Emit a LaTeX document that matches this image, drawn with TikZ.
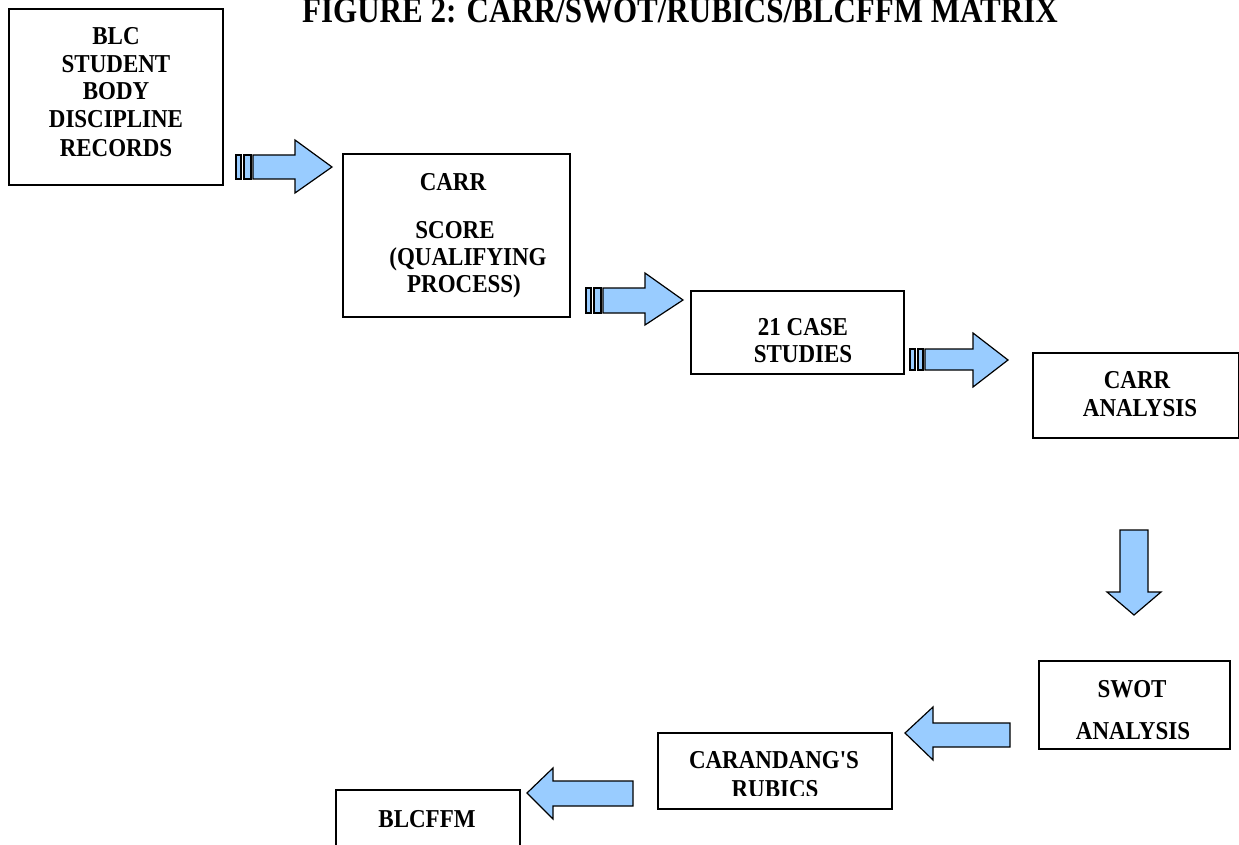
\documentclass[tikz,border=0pt]{standalone}
\usepackage{fontspec}
\setmainfont{Liberation Serif}
\begin{document}
\begin{tikzpicture}[x=1pt,y=-1pt,
  box/.style={draw=black, line width=1.8pt, rectangle, inner sep=0pt, anchor=north west},
  txt/.style={anchor=base, inner sep=0pt, yscale=1.12, font=\fontsize{23}{28}\selectfont\bfseries},
  blockarrow/.style={draw=black, line width=1.2pt, fill=arrowblue, line join=miter},
  stripe/.style={draw=black, line width=1.1pt, fill=arrowblue}
]
\definecolor{arrowblue}{HTML}{99CCFF}
\useasboundingbox (0,0) rectangle (1239,845);
\clip (0,0) rectangle (1239,845);

% title
\node[anchor=base, inner sep=0pt, yscale=1.15, font=\fontsize{31}{34}\selectfont\bfseries] (title) at (680,23) {FIGURE 2: CARR/SWOT/RUBICS/BLCFFM MATRIX};

% boxes
\node[box, minimum width=214pt, minimum height=176pt] (b1) at (8,8) {};
\node[box, minimum width=227pt, minimum height=163pt] (b2) at (342,153) {};
\node[box, minimum width=213pt, minimum height=83pt] (b3) at (690,290) {};
\node[box, minimum width=206pt, minimum height=85pt] (b4) at (1032,352) {};
\node[box, minimum width=191pt, minimum height=88pt] (b5) at (1038,660) {};
\node[box, minimum width=234pt, minimum height=76pt] (b6) at (657,732) {};
\node[box, minimum width=184pt, minimum height=90pt] (b7) at (335,789) {};

% texts
\node[txt] (t1a) at (116,45) {BLC};
\node[txt] (t1b) at (116,73) {STUDENT};
\node[txt] (t1c) at (116,100) {BODY};
\node[txt] (t1d) at (116,128) {DISCIPLINE};
\node[txt] (t1e) at (116,157) {RECORDS};

\node[txt] (t2a) at (453,191) {CARR};
\node[txt] (t2b) at (455,238) {SCORE};
\node[txt] (t2c) at (468,265) {(QUALIFYING};
\node[txt] (t2d) at (464,292) {PROCESS)};

\node[txt] (t3a) at (803,335) {21 CASE};
\node[txt] (t3b) at (803,362) {STUDIES};

\node[txt] (t4a) at (1137,388) {CARR};
\node[txt] (t4b) at (1140,416) {ANALYSIS};

\node[txt] (t5a) at (1132,697) {SWOT};
\node[txt] (t5b) at (1133,739) {ANALYSIS};

\node[txt] (t6a) at (774,768) {CARANDANG\textquotesingle S};
\begin{scope}
  \clip (657,778) rectangle (891,795);
  \node[txt] (t6b) at (775,797) {RUBICS};
\end{scope}

\node[txt] (t7a) at (427,827) {BLCFFM};

% arrow 1 (striped, right)
\draw[stripe] (236,155) rectangle (241,179);
\draw[stripe] (244,155) rectangle (251,179);
\draw[blockarrow] (253,155) -- (295,155) -- (295,140) -- (332,167) -- (295,193) -- (295,179) -- (253,179) -- cycle;

% arrow 2 (striped, right)
\draw[stripe] (586,288) rectangle (591,313);
\draw[stripe] (594,288) rectangle (601,313);
\draw[blockarrow] (603,288) -- (645,288) -- (645,273) -- (683,300) -- (645,325) -- (645,313) -- (603,313) -- cycle;

% arrow 3 (striped, right)
\draw[stripe] (910,349) rectangle (915,370);
\draw[stripe] (918,349) rectangle (923,370);
\draw[blockarrow] (925,349) -- (973,349) -- (973,333) -- (1008,360) -- (973,387) -- (973,370) -- (925,370) -- cycle;

% arrow down
\draw[blockarrow] (1120,530) -- (1148,530) -- (1148,592) -- (1161,592) -- (1134,615) -- (1107,592) -- (1120,592) -- cycle;

% arrow left 1
\draw[blockarrow] (1010,723) -- (933,723) -- (933,707) -- (905,733) -- (933,760) -- (933,747) -- (1010,747) -- cycle;

% arrow left 2
\draw[blockarrow] (633,781) -- (553,781) -- (553,768) -- (527,793) -- (553,819) -- (553,806) -- (633,806) -- cycle;
\end{tikzpicture}
\end{document}
